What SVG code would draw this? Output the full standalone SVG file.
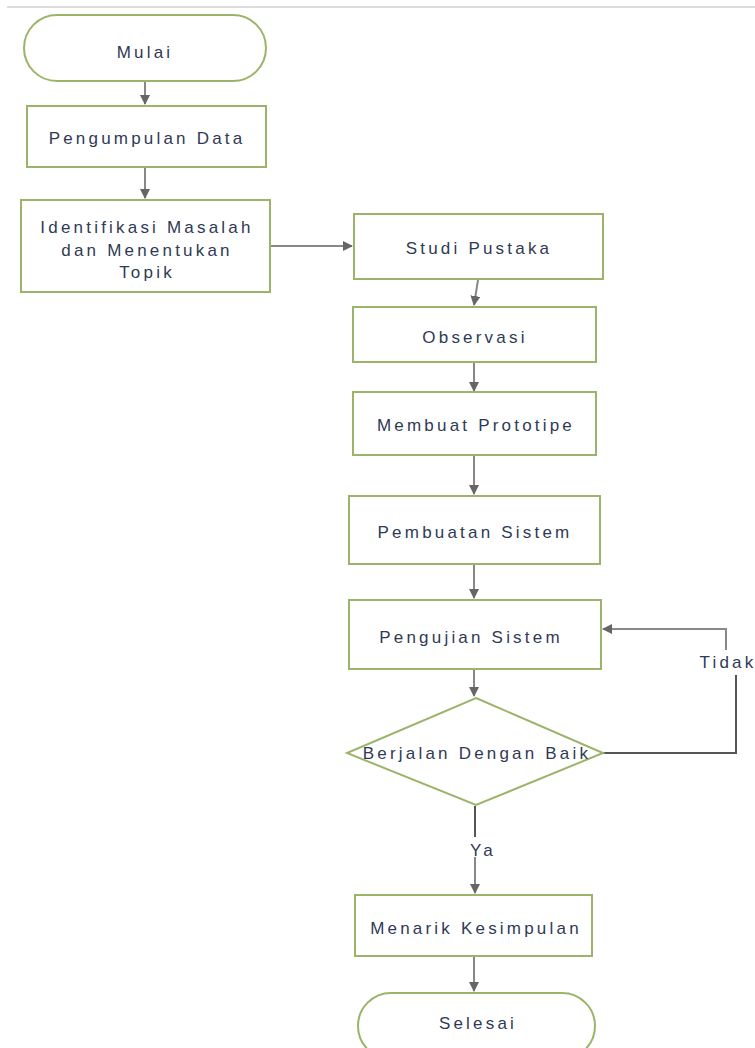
<svg xmlns="http://www.w3.org/2000/svg" width="755" height="1048" viewBox="0 0 755 1048">
<defs>
<style>
.n{fill:#fff;stroke:#9bb46a;stroke-width:2}
.t{font-family:"Liberation Sans",Arial,sans-serif;font-size:17px;fill:#2f3a55;text-anchor:middle;letter-spacing:3.2px}
.c{fill:none;stroke:#888;stroke-width:2}
.d{fill:none;stroke:#555;stroke-width:2}
</style>
<marker id="ah" viewBox="0 0 10 10" refX="9" refY="5" markerWidth="5" markerHeight="5" orient="auto-start-reverse">
<path d="M0,0 L10,5 L0,10 z" fill="#666"/>
</marker>
</defs>
<rect width="755" height="1048" fill="#fff"/>
<line x1="7" y1="7" x2="755" y2="7" stroke="#dcdcdc" stroke-width="2"/>
<g id="connectors">
<line class="c" x1="145" y1="82" x2="145" y2="104" marker-end="url(#ah)"/>
<line class="c" x1="145" y1="168" x2="145" y2="198" marker-end="url(#ah)"/>
<line class="c" x1="271" y1="246" x2="352" y2="246" marker-end="url(#ah)"/>
<line class="c" x1="478" y1="280" x2="474" y2="305" marker-end="url(#ah)"/>
<line class="c" x1="474" y1="363" x2="474" y2="391" marker-end="url(#ah)"/>
<line class="c" x1="474" y1="456" x2="474" y2="494" marker-end="url(#ah)"/>
<line class="c" x1="474" y1="565" x2="474" y2="598" marker-end="url(#ah)"/>
<line class="c" x1="474" y1="670" x2="474" y2="696" marker-end="url(#ah)"/>
<polyline class="d" points="603,753 736,753 736,675"/>
<polyline class="c" points="726,650 726,629 603,629" marker-end="url(#ah)"/>
<line class="d" x1="475" y1="806" x2="475" y2="837"/>
<line class="c" x1="475" y1="857" x2="475" y2="893" marker-end="url(#ah)"/>
<line class="c" x1="474" y1="957" x2="474" y2="991" marker-end="url(#ah)"/>
<text class="t" x="728" y="668">Tidak</text>
<text class="t" x="483" y="856">Ya</text>
</g>
<g id="mulai">
<rect class="n" x="24" y="15" width="242" height="66" rx="33" ry="33"/>
<text class="t" x="145" y="58">Mulai</text>
</g>
<g id="pengumpulan">
<rect class="n" x="27" y="106" width="239" height="61"/>
<text class="t" x="147" y="144">Pengumpulan Data</text>
</g>
<g id="identifikasi">
<rect class="n" x="21" y="200" width="249" height="92"/>
<text class="t" x="147" y="233">Identifikasi Masalah</text>
<text class="t" x="147" y="256">dan Menentukan</text>
<text class="t" x="147" y="278">Topik</text>
</g>
<g id="studi">
<rect class="n" x="354" y="214" width="249" height="65"/>
<text class="t" x="479" y="254">Studi Pustaka</text>
</g>
<g id="observasi">
<rect class="n" x="353" y="307" width="243" height="55"/>
<text class="t" x="475" y="343">Observasi</text>
</g>
<g id="prototipe">
<rect class="n" x="353" y="392" width="243" height="63"/>
<text class="t" x="476" y="431">Membuat Prototipe</text>
</g>
<g id="pembuatan">
<rect class="n" x="349" y="496" width="251" height="68"/>
<text class="t" x="475" y="538">Pembuatan Sistem</text>
</g>
<g id="pengujian">
<rect class="n" x="349" y="600" width="252" height="69"/>
<text class="t" x="471" y="643">Pengujian Sistem</text>
</g>
<g id="berjalan">
<polygon class="n" points="476,698 603,753 476,805 347,753"/>
<text class="t" x="477" y="759">Berjalan Dengan Baik</text>
</g>
<g id="menarik">
<rect class="n" x="355" y="895" width="237" height="61"/>
<text class="t" x="476" y="934">Menarik Kesimpulan</text>
</g>
<g id="selesai">
<rect class="n" x="358" y="993" width="237" height="66" rx="33" ry="33"/>
<text class="t" x="478" y="1029">Selesai</text>
</g>
</svg>
